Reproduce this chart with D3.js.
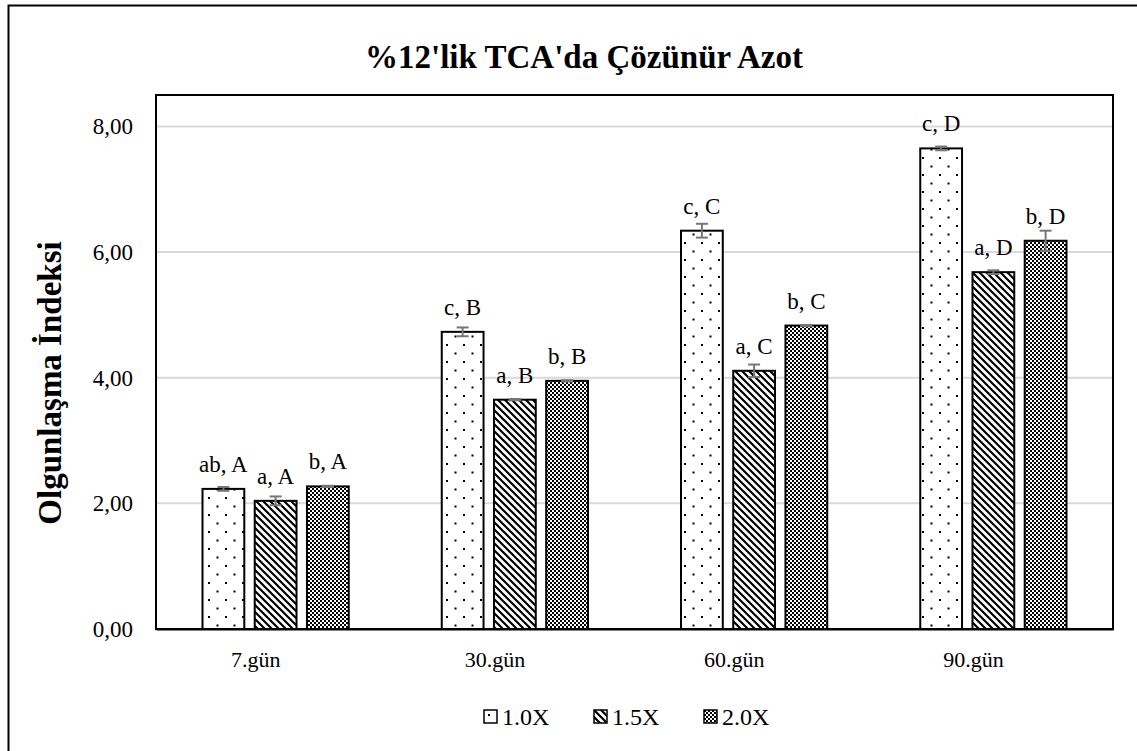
<!DOCTYPE html>
<html>
<head>
<meta charset="utf-8">
<script src="https://cdn.jsdelivr.net/npm/d3@7"></script>
<style>
  body { margin: 0; background: #fff; }
  svg text { font-family: "Liberation Serif", "Times New Roman", serif; fill: #000; }
</style>
</head>
<body>
<div id="chart-area"></div>
<script>
var width = 1137;
var height = 751;
var serif = "'Liberation Serif', 'Times New Roman', serif";

// data
var days = ["7.gün", "30.gün", "60.gün", "90.gün"];
var groups = ["1.0X", "1.5X", "2.0X"];
var values10 = [2.23, 4.73, 6.34, 7.65];
var values15 = [2.04, 3.65, 4.11, 5.68];
var values20 = [2.27, 3.95, 4.83, 6.18];
var err10 = [0.03, 0.07, 0.11, 0.03];
var err15 = [0.07, 0.01, 0.10, 0.03];
var err20 = [0.01, 0.01, 0.01, 0.16];
var labels10 = ["ab, A", "c, B", "c, C", "c, D"];
var labels15 = ["a, A", "a, B", "a, C", "a, D"];
var labels20 = ["b, A", "b, B", "b, C", "b, D"];
var yTicks = [0, 2, 4, 6, 8];

var data = [];
days.forEach(function(day, i) {
  data.push({ day: day, group: "1.0X", value: values10[i], err: err10[i], label: labels10[i] });
  data.push({ day: day, group: "1.5X", value: values15[i], err: err15[i], label: labels15[i] });
  data.push({ day: day, group: "2.0X", value: values20[i], err: err20[i], label: labels20[i] });
});

var plot = { left: 156, top: 95, right: 1113, bottom: 629 };

// Canvas
var svg = d3.select("#chart-area")
  .append("svg")
  .attr("width", width)
  .attr("height", height);

// patterns
var defs = svg.append("defs");

var pDots = defs.append("pattern")
  .attr("id", "p10")
  .attr("patternUnits", "userSpaceOnUse")
  .attr("width", 17).attr("height", 17);
pDots.append("rect").attr("width", 17).attr("height", 17).attr("fill", "#fff");
pDots.append("rect").attr("x", 4).attr("y", 4).attr("width", 2).attr("height", 2).attr("fill", "#000");
pDots.append("rect").attr("x", 12.5).attr("y", 12.5).attr("width", 2).attr("height", 2).attr("fill", "#000");

var pDiag = defs.append("pattern")
  .attr("id", "p15")
  .attr("patternUnits", "userSpaceOnUse")
  .attr("width", 7).attr("height", 7);
pDiag.append("rect").attr("width", 7).attr("height", 7).attr("fill", "#fff");
pDiag.append("path")
  .attr("d", "M-1,-1 L8,8 M-1,6 L1,8 M6,-1 L8,1")
  .attr("stroke", "#000")
  .attr("stroke-width", 2.2);

var pCheck = defs.append("pattern")
  .attr("id", "p20")
  .attr("patternUnits", "userSpaceOnUse")
  .attr("width", 4).attr("height", 4);
pCheck.append("rect").attr("width", 4).attr("height", 4).attr("fill", "#fff");
pCheck.append("rect").attr("x", 0).attr("y", 0).attr("width", 2).attr("height", 2).attr("fill", "#000");
pCheck.append("rect").attr("x", 2).attr("y", 2).attr("width", 2).attr("height", 2).attr("fill", "#000");

var fills = { "1.0X": "url(#p10)", "1.5X": "url(#p15)", "2.0X": "url(#p20)" };

// outer border
svg.append("rect")
  .attr("x", 8.5).attr("y", 5.5)
  .attr("width", 1300).attr("height", 900)
  .attr("fill", "none")
  .attr("stroke", "#000")
  .attr("stroke-width", 2);

// scales
var x = d3.scaleBand()
  .domain(days)
  .range([plot.left, plot.right]);

var xg = d3.scaleBand()
  .domain(groups)
  .range([46.5, x.bandwidth() - 46.5])
  .paddingInner(0.2);

var y = d3.scaleLinear()
  .domain([0, 8.5])
  .range([plot.bottom, plot.top]);

// gridlines
svg.append("g")
  .selectAll("line")
  .data(yTicks.slice(1))
  .enter()
  .append("line")
  .attr("x1", plot.left).attr("x2", plot.right)
  .attr("y1", function(d) { return y(d); })
  .attr("y2", function(d) { return y(d); })
  .attr("stroke", "#d9d9d9")
  .attr("stroke-width", 2);

// plot area box
svg.append("rect")
  .attr("x", plot.left).attr("y", plot.top)
  .attr("width", plot.right - plot.left)
  .attr("height", plot.bottom - plot.top)
  .attr("fill", "none")
  .attr("stroke", "#000")
  .attr("stroke-width", 2);

// y axis
var yAxis = svg.append("g")
  .attr("transform", "translate(" + plot.left + ",0)")
  .call(d3.axisLeft(y).tickValues(yTicks).tickSize(0).tickPadding(23)
    .tickFormat(function(d) { return d3.format(".2f")(d).replace(".", ","); }));
yAxis.select(".domain").remove();
yAxis.selectAll("text")
  .style("font-family", serif)
  .style("font-size", "23px");

// x axis
var xAxis = svg.append("g")
  .attr("transform", "translate(0," + plot.bottom + ")")
  .call(d3.axisBottom(x).tickSize(0).tickPadding(22));
xAxis.select(".domain").attr("stroke", "#000").attr("stroke-width", 2);
xAxis.selectAll("text")
  .attr("dx", -20)
  .style("font-family", serif)
  .style("font-size", "22px");

// bars
var bars = svg.append("g");
bars.selectAll("rect")
  .data(data)
  .enter()
  .append("rect")
  .attr("x", function(d) { return x(d.day) + xg(d.group); })
  .attr("y", function(d) { return y(d.value); })
  .attr("width", xg.bandwidth())
  .attr("height", function(d) { return y(0) - y(d.value); })
  .attr("fill", function(d) { return fills[d.group]; })
  .attr("stroke", "#000")
  .attr("stroke-width", 2);

// error bars
var eb = svg.append("g")
  .attr("stroke", "#767676")
  .attr("stroke-width", 2);
data.forEach(function(d) {
  var cx = x(d.day) + xg(d.group) + xg.bandwidth() / 2;
  eb.append("line").attr("x1", cx).attr("x2", cx)
    .attr("y1", y(d.value + d.err)).attr("y2", y(d.value - d.err));
  eb.append("line").attr("x1", cx - 6).attr("x2", cx + 6)
    .attr("y1", y(d.value + d.err)).attr("y2", y(d.value + d.err));
  eb.append("line").attr("x1", cx - 6).attr("x2", cx + 6)
    .attr("y1", y(d.value - d.err)).attr("y2", y(d.value - d.err));
});

// value letters
svg.append("g")
  .selectAll("text")
  .data(data)
  .enter()
  .append("text")
  .attr("x", function(d) { return x(d.day) + xg(d.group) + xg.bandwidth() / 2; })
  .attr("y", function(d) { return y(d.value) - 17; })
  .attr("text-anchor", "middle")
  .style("font-family", serif)
  .style("font-size", "23px")
  .text(function(d) { return d.label; });

// title
svg.append("text")
  .attr("x", 584)
  .attr("y", 68)
  .attr("text-anchor", "middle")
  .style("font-family", serif)
  .style("font-size", "33px")
  .style("font-weight", "bold")
  .text("%12'lik TCA'da Çözünür Azot");

// y title
svg.append("text")
  .attr("transform", "translate(61,383) rotate(-90)")
  .attr("text-anchor", "middle")
  .style("font-family", serif)
  .style("font-size", "33px")
  .style("font-weight", "bold")
  .text("Olgunlaşma İndeksi");

// legend
var legend = svg.append("g")
  .attr("transform", "translate(484,710)");
var item = legend.selectAll("g")
  .data(groups)
  .enter()
  .append("g")
  .attr("transform", function(d, i) { return "translate(" + (i * 110) + ",0)"; });
item.append("rect")
  .attr("width", 13).attr("height", 13)
  .attr("fill", function(d) { return fills[d]; })
  .attr("stroke", "#000")
  .attr("stroke-width", 1.5);
item.append("text")
  .attr("x", 18)
  .attr("y", 15)
  .style("font-family", serif)
  .style("font-size", "24px")
  .text(function(d) { return d; });
</script>
</body>
</html>
